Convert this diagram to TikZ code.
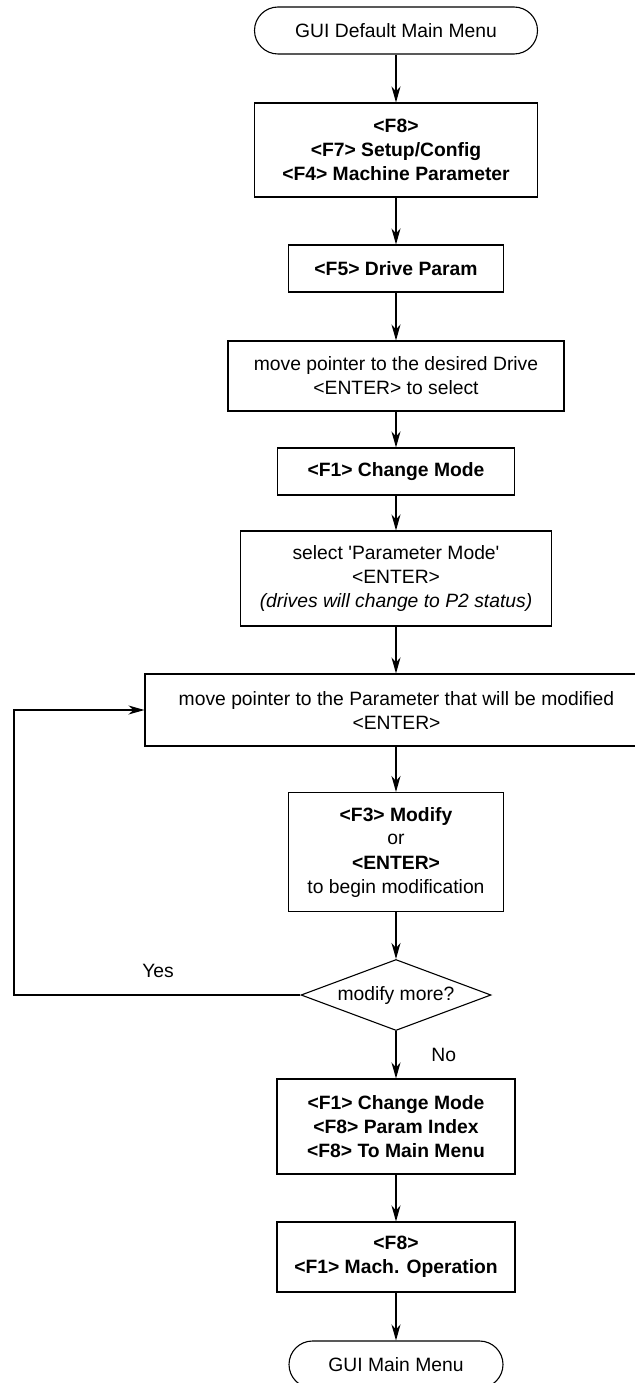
\documentclass[tikz,border=0pt]{standalone}
\usepackage{fontspec}
\setmainfont{Liberation Sans}[Ligatures=TeXOff]
\usetikzlibrary{shapes.geometric,arrows.meta}

\begin{document}
\begin{tikzpicture}[x=1pt,y=-1pt,
  every node/.style={font=\fontsize{19.3}{24}\selectfont, align=center, inner sep=0pt},
  stepbox/.style={draw, line width=1.1pt, rectangle},
  termbox/.style={draw, line width=1.1pt, rectangle, rounded corners=23.5pt, minimum height=47pt},
  decision/.style={draw, line width=1.1pt, diamond, aspect=2.68, minimum width=190pt, minimum height=71pt},
  arr/.style={line width=1.1pt, -{Stealth[length=16pt,width=9pt,inset=5pt]}},
  lbl/.style={font=\fontsize{19.3}{24}\selectfont}
]
  % page frame
  \fill[white] (0,0) rectangle (634,1383);
  \useasboundingbox (0,0) rectangle (634,1383);

  % process nodes
  \node[termbox, minimum width=283pt] (start) at (396,30.5) {GUI Default Main Menu};
  \node[stepbox, minimum width=283pt, minimum height=94pt] (setup) at (396,150)
    {\textbf{<F8>}\\\textbf{<F7> Setup/Config}\\\textbf{<F4> Machine Parameter}};
  \node[stepbox, minimum width=215pt, minimum height=47pt] (drive) at (396,268.5)
    {\textbf{<F5> Drive Param}};
  \node[stepbox, minimum width=336pt, minimum height=70pt] (pick) at (396,376)
    {move pointer to the desired Drive\\<ENTER> to select};
  \node[stepbox, minimum width=237pt, minimum height=47pt] (mode) at (396,471.5)
    {\textbf{<F1> Change Mode}};
  \node[stepbox, minimum width=311pt, minimum height=95pt] (pmode) at (396,578.5)
    {select 'Parameter Mode'\\<ENTER>\\\textit{(drives will change to P2 status)}};
  \node[stepbox, minimum width=503pt, minimum height=72pt] (param) at (396.5,710)
    {move pointer to the Parameter that will be modified\\<ENTER>};
  \node[stepbox, minimum width=215pt, minimum height=119pt] (modify) at (396,852)
    {\textbf{<F3> Modify}\\or\\\textbf{<ENTER>}\\to begin modification};
  \node[decision] (more) at (396,995) {modify more?};
  \node[stepbox, minimum width=238pt, minimum height=95pt] (leave) at (396,1126.5)
    {\textbf{<F1> Change Mode}\\\textbf{<F8> Param Index}\\\textbf{<F8> To Main Menu}};
  \node[stepbox, minimum width=238pt, minimum height=70pt] (oper) at (396,1257)
    {\textbf{<F8>}\\\textbf{<F1> Mach. Operation}};
  \node[termbox, minimum width=214pt] (finish) at (396,1364.5) {GUI Main Menu};

  % branch labels
  \node[lbl] (yes) at (158,971) {Yes};
  \node[lbl] (no) at (443.7,1055) {No};

  % main flow
  \draw[arr] (start) -- (setup);
  \draw[arr] (setup) -- (drive);
  \draw[arr] (drive) -- (pick);
  \draw[arr] (pick) -- (mode);
  \draw[arr] (mode) -- (pmode);
  \draw[arr] (pmode) -- (param.north -| pmode.south);
  \draw[arr] (param.south -| modify.north) -- (modify);
  \draw[arr] (modify) -- (more);
  \draw[arr] (more) -- (leave);
  \draw[arr] (leave) -- (oper);
  \draw[arr] (oper) -- (finish);

  % loop back for further modifications
  \coordinate (loop) at (14,995);
  \draw[arr] (more.west) -- (loop) |- (param.west);
\end{tikzpicture}
\end{document}
